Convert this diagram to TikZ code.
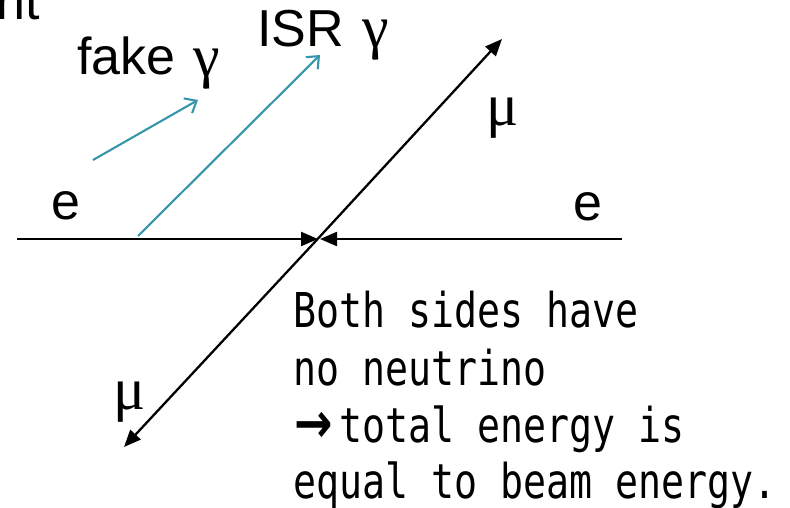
\documentclass[tikz,border=0pt]{standalone}
\usepackage{fontspec}
\usetikzlibrary{arrows.meta}
\newfontfamily\arialf{Liberation Sans}
\newfontfamily\timesf{Liberation Serif}
\newfontfamily\gothicf[FakeStretch=0.796]{DejaVu Sans Mono}
\newfontfamily\symf[FakeStretch=0.82]{DejaVu Sans}
\definecolor{tealc}{RGB}{52,150,168}
\tikzset{
  lbl/.style={inner sep=0pt, anchor=base west, font=\arialf\fontsize{52}{60}\selectfont},
  greek/.style={inner sep=0pt, anchor=base west, font=\timesf\fontsize{60}{66}\selectfont},
  gline/.style={inner sep=0pt, anchor=base west, font=\gothicf\fontsize{48}{57.5}\selectfont},
  beam/.style={line width=2.3pt, -{Triangle[length=17pt,width=14pt]}},
  photon/.style={tealc, line width=2.1pt, -{Straight Barb[length=10pt,width=17pt,line width=2.1pt]}}
}
\begin{document}
\begin{tikzpicture}[x=1pt,y=-1pt]
\useasboundingbox (0,0) rectangle (790,508);
% labels
\node[lbl, anchor=base east] (nt) at (40,20) {nt};
\node[lbl] (fake) at (77,75) {fake};
\node[greek] (g1) at (193,77) {γ};
\node[lbl] (isr) at (257,47) {ISR};
\node[greek] (g2) at (362,48) {γ};
\node[lbl] (e1) at (51,219) {e};
\node[lbl] (e2) at (573,220) {e};
\node[greek] (mu1) at (486,126) {μ};
\node[greek] (mu2) at (113,409) {μ};
% geometry
\coordinate (L) at (17,239);
\coordinate (R) at (622,239);
\coordinate (cl) at (318,239);
\coordinate (cr) at (320,239);
\coordinate (ur) at (502,39);
\coordinate (dl) at (124,447);
\coordinate (mid) at (313,244);
\draw[beam] (L) -- (cl);
\draw[beam] (R) -- (cr);
\draw[beam] (mid) -- (ur);
\draw[beam] (mid) -- (dl);
% photons
\coordinate (f0) at (93,160);
\coordinate (f1) at (198,100);
\coordinate (i0) at (138,236);
\coordinate (i1) at (320,55);
\draw[photon] (f0) -- (f1);
\draw[photon] (i0) -- (i1);
% text block
\node[gline] (t1) at (293,327) {Both sides have};
\node[gline] (t2) at (293,385) {no neutrino};
\node[gline] (t3) at (293,442) {\makebox[46pt][l]{\hspace{1pt}\symf\bfseries\fontsize{56}{60}\selectfont →}total energy is};
\node[gline] (t4) at (293,498) {equal to beam energy.};
\end{tikzpicture}
\end{document}
